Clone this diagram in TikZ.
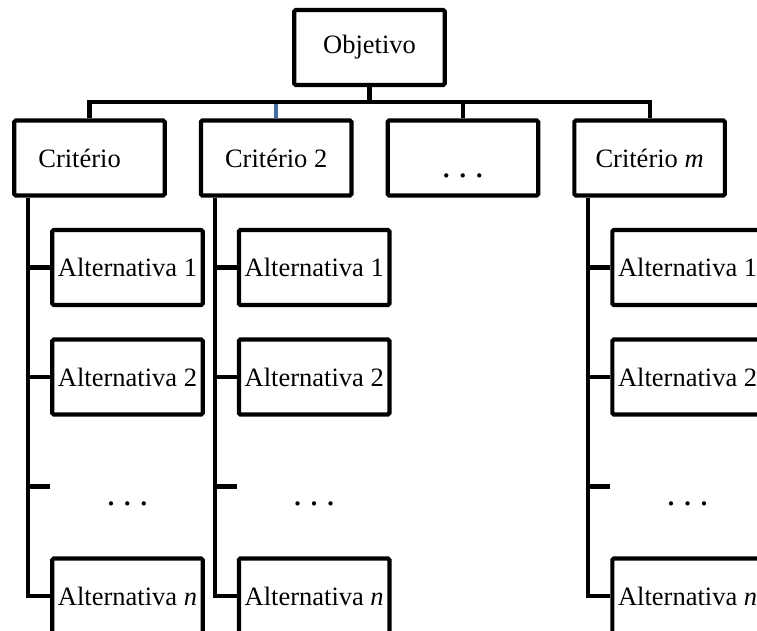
\documentclass[tikz,border=0pt]{standalone}
\usepackage{fontspec}
\setmainfont{Liberation Serif}
\definecolor{linkblue}{RGB}{68,108,160}
\tikzset{
  box/.style={draw, line width=4.2pt, minimum width=150.5pt, minimum height=75pt,
    inner sep=0pt, rounded corners=1.5pt, fill=white,
    font=\fontsize{26.5}{30}\selectfont},
  wire/.style={line width=4.2pt},
  dotrow/.style={inner sep=0pt, anchor=base, font=\fontsize{36}{40}\selectfont},
}
\newcommand{\threedots}{.\hspace{7.5pt}.\hspace{7.5pt}.}
\begin{document}
\begin{tikzpicture}[x=1pt, y=-1pt]
  \useasboundingbox (0,0) rectangle (757,631);
  \clip (0,0) rectangle (757,631);

  % goal and criteria
  \node[box] (obj) at (369.5,47.5) {Objetivo};
  \node[box] (c1) at (89.5,158)  {Critério\phantom{ 1}};
  \node[box] (c2) at (276.2,158) {Critério 2};
  \node[box] (c3) at (462.9,158) {};
  \node[dotrow] (c3dots) at (462.9,177.5) {\threedots};
  \node[box] (c4) at (649.6,158) {Critério \textit{m}};

  % bus from the goal to the criteria
  \coordinate (bus) at (369.5,102);
  \draw[wire] (obj.south) -- (bus);
  \draw[wire] (c1.north) |- (bus) -| (c4.north);
  \draw[wire] (c3.north) -- (c3.north |- bus);
  \draw[wire, linkblue] (c2.north) -- ([yshift=-2pt]c2.north |- bus);

  % alternatives under each criterion
  \foreach \k/\cx in {1/89.5, 2/276.2, 4/649.6} {
    \node[box] (a\k1) at (\cx+38,267.5) {Alternativa 1};
    \node[box] (a\k2) at (\cx+38,377)   {Alternativa 2};
    \node[dotrow] (e\k) at (\cx+38,505.5) {\threedots};
    \node[box] (a\k n) at (\cx+38,596)  {Alternativa \textit{n}};
    \coordinate (v\k) at ([xshift=16pt]c\k.south west);
    \coordinate (s\k) at (\cx-39.5,486.5);
    \draw[wire] (v\k) |- (a\k n.west);
    \draw[wire] (a\k1.west) -- (a\k1.west -| v\k);
    \draw[wire] (a\k2.west) -- (a\k2.west -| v\k);
    \draw[wire] (s\k) -- (s\k -| v\k);
  }
\end{tikzpicture}
\end{document}
